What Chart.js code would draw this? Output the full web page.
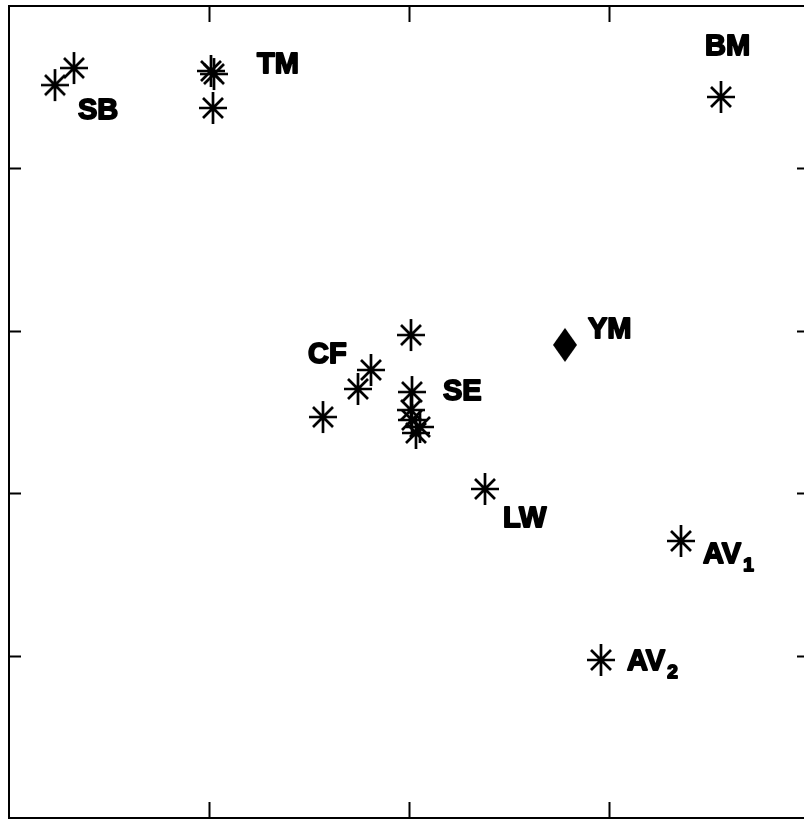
<!DOCTYPE html>
<html lang="en">
<head>
    <meta charset="UTF-8">
    <title>Site scatter</title>
    <script src="https://cdn.jsdelivr.net/npm/chart.js@4.4.1/dist/chart.umd.min.js"></script>
    <style>
        body {
            margin: 0;
            background-color: #ffffff;
            overflow: hidden;
        }
        #wrap {
            width: 804px;
            height: 820px;
            overflow: hidden;
        }
    </style>
</head>
<body>
    <div id="wrap">
        <canvas id="scatter" width="812" height="820"></canvas>
    </div>

    <script>
        // Sample sites (asterisks)
        const siteX = [0.23, 0.325, 1.01, 1.025, 1.02, 3.56, 2.01, 1.81, 1.745, 1.57,
                       2.015, 2.01, 2.015, 2.055, 2.035, 2.38, 3.36, 2.96];
        const siteY = [4.513, 4.618, 4.600, 4.581, 4.372, 4.440, 2.974, 2.759, 2.642, 2.469,
                       2.623, 2.512, 2.451, 2.408, 2.371, 2.026, 1.706, 0.973];

        // Reference point (diamond)
        const refX = [2.78];
        const refY = [2.913];

        // Group labels: text, subscript, anchor (left / baseline)
        const labelText = ['SB', 'TM', 'BM', 'YM', 'CF', 'SE', 'LW', 'AV', 'AV'];
        const labelSub = ['', '', '', '', '', '', '', '1', '2'];
        const labelX = [0.345, 1.24, 3.48, 2.895, 1.495, 2.17, 2.47, 3.47, 3.09];
        const labelY = [4.304, 4.587, 4.698, 2.956, 2.802, 2.574, 1.792, 1.570, 0.911];

        const xTicks = [1, 2, 3];
        const yTicks = [1, 2, 3, 4];

        // asterisk marker
        function makeStar() {
            const c = document.createElement('canvas');
            c.width = 36; c.height = 36;
            const g = c.getContext('2d');
            g.strokeStyle = '#000';
            g.lineWidth = 2.7;
            g.lineCap = 'butt';
            g.beginPath();
            g.moveTo(18, 2); g.lineTo(18, 34);
            g.moveTo(4, 18); g.lineTo(32, 18);
            g.moveTo(8, 8); g.lineTo(28, 28);
            g.moveTo(28, 8); g.lineTo(8, 28);
            g.stroke();
            return c;
        }

        // filled diamond marker
        function makeDiamond() {
            const c = document.createElement('canvas');
            c.width = 26; c.height = 36;
            const g = c.getContext('2d');
            g.fillStyle = '#000';
            g.beginPath();
            g.moveTo(13, 1); g.lineTo(25, 18); g.lineTo(13, 35); g.lineTo(1, 18);
            g.closePath();
            g.fill();
            return c;
        }

        const frameAndLabels = {
            id: 'frameAndLabels',
            afterDraw(chart) {
                const ctx = chart.ctx;
                const a = chart.chartArea;
                const xs = chart.scales.x, ys = chart.scales.y;
                ctx.save();
                ctx.strokeStyle = '#000';
                ctx.lineWidth = 2;
                ctx.strokeRect(a.left, a.top, a.right - a.left, a.bottom - a.top);
                ctx.beginPath();
                xTicks.forEach(v => {
                    const px = Math.round(xs.getPixelForValue(v)) + 0.5;
                    ctx.moveTo(px, a.top); ctx.lineTo(px, a.top + 16);
                    ctx.moveTo(px, a.bottom); ctx.lineTo(px, a.bottom - 16);
                });
                yTicks.forEach(v => {
                    const py = Math.round(ys.getPixelForValue(v)) + 0.5;
                    ctx.moveTo(a.left, py); ctx.lineTo(a.left + 12, py);
                    ctx.moveTo(a.right, py); ctx.lineTo(a.right - 12, py);
                });
                ctx.stroke();

                ctx.fillStyle = '#000';
                ctx.strokeStyle = '#000';
                ctx.lineWidth = 1.8;
                ctx.lineJoin = 'round';
                ctx.textBaseline = 'alphabetic';
                ctx.textAlign = 'left';
                labelText.forEach((t, i) => {
                    const px = xs.getPixelForValue(labelX[i]);
                    const py = ys.getPixelForValue(labelY[i]);
                    ctx.font = 'bold 29px "Liberation Sans", Arial, sans-serif';
                    ctx.fillText(t, px, py);
                    ctx.strokeText(t, px, py);
                    if (labelSub[i]) {
                        const w = ctx.measureText(t).width;
                        ctx.font = 'bold 19px "Liberation Sans", Arial, sans-serif';
                        ctx.fillText(labelSub[i], px + w + 2, py + 8);
                        ctx.strokeText(labelSub[i], px + w + 2, py + 8);
                    }
                });
                ctx.restore();
            }
        };

        const starImg = makeStar();
        const diamondImg = makeDiamond();

        new Chart(document.getElementById('scatter').getContext('2d'), {
            type: 'scatter',
            data: {
                datasets: [{
                    label: 'Sites',
                    data: siteX.map((x, i) => ({ x: x, y: siteY[i] })),
                    pointStyle: starImg,
                    pointRadius: 16
                }, {
                    label: 'YM',
                    data: refX.map((x, i) => ({ x: x, y: refY[i] })),
                    pointStyle: diamondImg,
                    pointRadius: 16
                }]
            },
            options: {
                responsive: false,
                animation: false,
                layout: { autoPadding: false, padding: { left: 9, top: 6, right: 3, bottom: 2 } },
                plugins: {
                    legend: { display: false },
                    tooltip: { enabled: false }
                },
                scales: {
                    x: { type: 'linear', min: 0, max: 4, display: false },
                    y: { type: 'linear', min: 0, max: 5, display: false }
                }
            },
            plugins: [frameAndLabels]
        });
    </script>
</body>
</html>
